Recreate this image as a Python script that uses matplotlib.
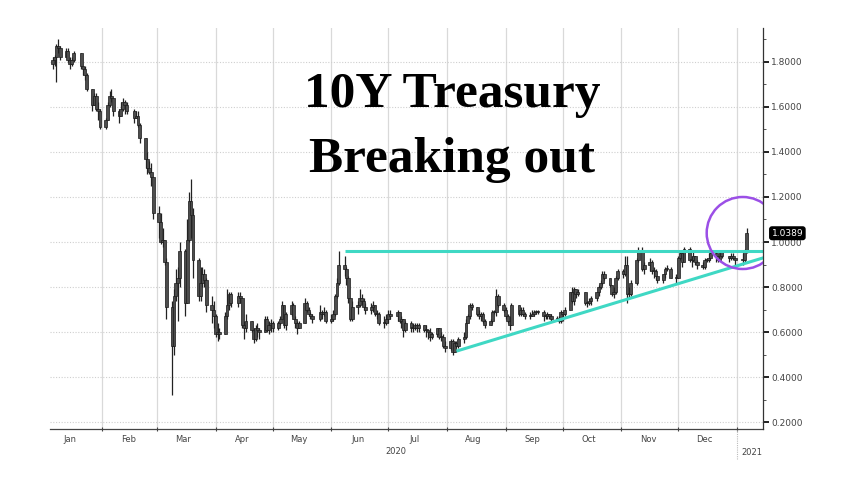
import numpy as np
import pandas as pd
import matplotlib
matplotlib.use("Agg")
import matplotlib.pyplot as plt
import matplotlib.dates as mdates
from matplotlib.patches import Ellipse, Rectangle
from pandas.tseries.holiday import USFederalHolidayCalendar

# ---------------- data (US 10Y yield, daily, Jan 2020 - Jan 6 2021) ----------------
first_open = 1.91
close = [
    1.88, 1.79, 1.81, 1.82, 1.87, 1.86, 1.82, 1.85, 1.81, 1.79, 1.81, 1.84, 1.78, 1.77, 1.74, 1.68, 1.61, 1.65, 1.59, 1.58, 1.51,
    1.54, 1.61, 1.65, 1.64, 1.58, 1.56, 1.59, 1.62, 1.61, 1.58, 1.55, 1.56, 1.52, 1.46, 1.37, 1.33, 1.31, 1.29, 1.13,
    1.09, 1.00, 1.01, 0.91, 0.71, 0.54, 0.76, 0.82, 0.84, 0.96, 0.73, 1.01, 1.18, 1.12, 0.92, 0.76, 0.82, 0.86, 0.83, 0.72, 0.70, 0.67,
    0.59, 0.60, 0.59, 0.67, 0.72, 0.77, 0.73, 0.76, 0.75, 0.63, 0.62, 0.65, 0.61, 0.57, 0.62, 0.61, 0.60, 0.66, 0.61, 0.63, 0.64,
    0.62, 0.64, 0.66, 0.72, 0.63, 0.68, 0.72, 0.66, 0.64, 0.62, 0.64, 0.73, 0.70, 0.68, 0.67, 0.66, 0.69, 0.68, 0.69, 0.65,
    0.66, 0.68, 0.76, 0.82, 0.90, 0.88, 0.84, 0.75, 0.66, 0.71, 0.72, 0.75, 0.74, 0.71, 0.70, 0.71, 0.72, 0.68, 0.68, 0.64, 0.64, 0.66,
    0.68, 0.67, 0.69, 0.65, 0.66, 0.61, 0.64, 0.62, 0.62, 0.63, 0.62, 0.63, 0.61, 0.61, 0.60, 0.58, 0.59, 0.62, 0.58, 0.58, 0.54, 0.53,
    0.56, 0.51, 0.55, 0.54, 0.57, 0.58, 0.64, 0.67, 0.72, 0.71, 0.68, 0.67, 0.68, 0.65, 0.63, 0.65, 0.69, 0.69, 0.76, 0.72, 0.70,
    0.67, 0.65, 0.63, 0.72, 0.68, 0.70, 0.68, 0.67, 0.67, 0.68, 0.69, 0.69, 0.69, 0.67, 0.67, 0.68, 0.67, 0.66, 0.66, 0.65, 0.69,
    0.68, 0.70, 0.78, 0.74, 0.79, 0.77, 0.78, 0.73, 0.73, 0.74, 0.75, 0.78, 0.80, 0.82, 0.86, 0.84, 0.81, 0.77, 0.78, 0.84, 0.87,
    0.86, 0.90, 0.77, 0.77, 0.82, 0.92, 0.96, 0.88, 0.90, 0.91, 0.87, 0.87, 0.85, 0.83, 0.86, 0.88, 0.88, 0.84, 0.84,
    0.93, 0.95, 0.91, 0.97, 0.92, 0.92, 0.94, 0.91, 0.90, 0.89, 0.92, 0.92, 0.93, 0.95, 0.94, 0.92, 0.96, 0.94, 0.93, 0.94, 0.93, 0.92,
    0.92, 0.96, 1.0389,
]
high = [
    1.92, 1.88, 1.82, 1.83, 1.88, 1.90, 1.87, 1.86, 1.86, 1.82, 1.82, 1.85, 1.84, 1.78, 1.78, 1.75, 1.66, 1.66, 1.66, 1.62, 1.59,
    1.55, 1.62, 1.67, 1.68, 1.64, 1.59, 1.62, 1.64, 1.63, 1.62, 1.59, 1.58, 1.58, 1.53, 1.43, 1.40, 1.36, 1.35, 1.26,
    1.16, 1.13, 1.06, 1.01, 0.93, 0.74, 0.79, 0.88, 0.89, 1.00, 0.97, 1.10, 1.22, 1.28, 1.15, 0.93, 0.89, 0.89, 0.88, 0.84, 0.76, 0.74,
    0.68, 0.64, 0.62, 0.69, 0.79, 0.78, 0.78, 0.78, 0.78, 0.74, 0.65, 0.68, 0.65, 0.62, 0.63, 0.64, 0.62, 0.67, 0.67, 0.65, 0.66,
    0.65, 0.65, 0.67, 0.74, 0.72, 0.69, 0.74, 0.73, 0.67, 0.65, 0.65, 0.75, 0.74, 0.71, 0.69, 0.68, 0.72, 0.70, 0.71, 0.70,
    0.68, 0.70, 0.77, 0.84, 0.96, 0.94, 0.89, 0.85, 0.74, 0.74, 0.74, 0.79, 0.77, 0.75, 0.73, 0.73, 0.74, 0.72, 0.70, 0.69, 0.67, 0.68,
    0.70, 0.70, 0.70, 0.69, 0.67, 0.66, 0.65, 0.65, 0.64, 0.64, 0.64, 0.64, 0.63, 0.63, 0.61, 0.62, 0.60, 0.62, 0.62, 0.60, 0.59, 0.56,
    0.57, 0.57, 0.56, 0.56, 0.58, 0.60, 0.66, 0.68, 0.73, 0.73, 0.71, 0.70, 0.69, 0.69, 0.66, 0.66, 0.70, 0.70, 0.79, 0.77, 0.73,
    0.71, 0.68, 0.67, 0.73, 0.72, 0.71, 0.71, 0.69, 0.69, 0.70, 0.70, 0.70, 0.70, 0.70, 0.68, 0.69, 0.68, 0.68, 0.67, 0.67, 0.70,
    0.69, 0.71, 0.78, 0.80, 0.80, 0.79, 0.79, 0.77, 0.74, 0.75, 0.76, 0.78, 0.81, 0.83, 0.87, 0.87, 0.84, 0.81, 0.80, 0.85, 0.88,
    0.88, 0.94, 0.94, 0.80, 0.83, 0.93, 0.98, 0.98, 0.91, 0.93, 0.92, 0.89, 0.88, 0.85, 0.86, 0.89, 0.90, 0.89, 0.86,
    0.94, 0.96, 0.95, 0.98, 0.98, 0.94, 0.96, 0.94, 0.92, 0.91, 0.93, 0.93, 0.95, 0.96, 0.96, 0.94, 0.96, 0.96, 0.94, 0.95, 0.95, 0.93,
    0.95, 0.97, 1.06,
]
low = [
    1.87, 1.78, 1.77, 1.78, 1.71, 1.84, 1.81, 1.82, 1.80, 1.77, 1.78, 1.80, 1.77, 1.74, 1.72, 1.67, 1.58, 1.61, 1.58, 1.54, 1.50,
    1.50, 1.54, 1.60, 1.62, 1.56, 1.53, 1.56, 1.58, 1.57, 1.57, 1.53, 1.55, 1.51, 1.44, 1.33, 1.30, 1.30, 1.25, 1.10,
    1.02, 0.99, 0.98, 0.90, 0.66, 0.32, 0.50, 0.74, 0.65, 0.80, 0.67, 0.80, 1.00, 1.02, 0.84, 0.74, 0.74, 0.80, 0.80, 0.69, 0.64, 0.62,
    0.58, 0.56, 0.57, 0.60, 0.66, 0.70, 0.71, 0.71, 0.73, 0.62, 0.57, 0.60, 0.60, 0.55, 0.56, 0.58, 0.57, 0.60, 0.60, 0.59, 0.60,
    0.60, 0.61, 0.63, 0.66, 0.62, 0.61, 0.67, 0.66, 0.62, 0.59, 0.62, 0.64, 0.69, 0.67, 0.66, 0.64, 0.65, 0.66, 0.67, 0.64,
    0.64, 0.65, 0.67, 0.75, 0.81, 0.85, 0.81, 0.73, 0.65, 0.65, 0.68, 0.71, 0.72, 0.70, 0.68, 0.68, 0.69, 0.67, 0.66, 0.63, 0.62, 0.63,
    0.64, 0.66, 0.65, 0.64, 0.62, 0.58, 0.60, 0.60, 0.60, 0.61, 0.60, 0.60, 0.60, 0.58, 0.57, 0.56, 0.57, 0.58, 0.57, 0.56, 0.53, 0.51,
    0.52, 0.50, 0.51, 0.53, 0.53, 0.55, 0.57, 0.64, 0.66, 0.70, 0.67, 0.66, 0.65, 0.64, 0.62, 0.63, 0.64, 0.68, 0.67, 0.71, 0.69,
    0.66, 0.64, 0.61, 0.63, 0.67, 0.67, 0.67, 0.66, 0.66, 0.67, 0.67, 0.68, 0.68, 0.65, 0.66, 0.66, 0.66, 0.65, 0.65, 0.64, 0.64,
    0.65, 0.67, 0.70, 0.73, 0.72, 0.75, 0.76, 0.72, 0.71, 0.72, 0.72, 0.74, 0.76, 0.79, 0.81, 0.83, 0.80, 0.76, 0.75, 0.77, 0.83,
    0.84, 0.85, 0.73, 0.75, 0.76, 0.81, 0.91, 0.87, 0.86, 0.87, 0.86, 0.84, 0.83, 0.82, 0.82, 0.84, 0.87, 0.84, 0.82,
    0.84, 0.92, 0.89, 0.91, 0.91, 0.89, 0.91, 0.90, 0.88, 0.88, 0.88, 0.91, 0.91, 0.92, 0.91, 0.91, 0.92, 0.93, 0.91, 0.92, 0.92, 0.90,
    0.90, 0.91, 0.95,
]
month_labels = ["Jan", "Feb", "Mar", "Apr", "May", "Jun", "Jul", "Aug", "Sep", "Oct", "Nov", "Dec"]
y_ticks = [0.2, 0.4, 0.6, 0.8, 1.0, 1.2, 1.4, 1.6, 1.8]
last_value_label = "1.0389"
title_lines = ["10Y Treasury", "Breaking out"]
resistance_level = 0.96
resistance_start = "2020-06-08"
trend_start = ("2020-08-06", 0.515)
trend_end = ("2021-01-15", 0.93)
circle_center = ("2021-01-04", 1.04)

# ---------------- dates ----------------
hol = list(USFederalHolidayCalendar().holidays("2020-01-01", "2021-01-10")) + [pd.Timestamp("2020-04-10")]
dates = pd.bdate_range("2020-01-02", "2021-01-06", freq="C", holidays=hol)
n = min(len(dates), len(close), len(high), len(low))
dates = dates[:n]
c = np.array(close[:n])
h = np.array(high[:n])
l = np.array(low[:n])
o = np.concatenate([[first_open], c[:-1]])
h = np.maximum(h, np.maximum(o, c))
l = np.minimum(l, np.minimum(o, c))
x = mdates.date2num(dates.to_pydatetime())

# ---------------- figure ----------------
W, H = 848, 478
fig = plt.figure(figsize=(W / 100, H / 100), dpi=100)
ax = fig.add_axes([50 / W, 1 - 429 / H, (763 - 50) / W, (429 - 28) / H])

feb1 = mdates.date2num(pd.Timestamp("2020-02-01"))
jan21 = mdates.date2num(pd.Timestamp("2021-01-01"))
xmax = jan21 + 13.7
ax.set_xlim(feb1 - 27.4, xmax)
ax.set_ylim(0.169, 1.951)

# grid
month_starts = pd.date_range("2020-02-01", "2021-01-01", freq="MS")
for d in month_starts:
    ax.axvline(mdates.date2num(d), color="#d9d9d9", lw=0.9, zorder=0)
for v in y_ticks:
    ax.axhline(v, color="#cfcfcf", lw=0.8, ls=(0, (1, 1.5)), zorder=0)

# candles
body_bottom = np.minimum(o, c)
body_h = np.abs(c - o)
body_h = np.where(body_h < 0.004, 0.004, body_h)
ax.vlines(x, l, h, color="#222222", lw=0.9, zorder=2)
ax.bar(x, body_h, bottom=body_bottom, width=1.5, color="#4d4d4d",
       edgecolor="#1a1a1a", linewidth=0.5, zorder=3)

# trend lines
cyan = "#3fd8c4"
ax.plot([mdates.date2num(pd.Timestamp(resistance_start)), xmax],
        [resistance_level, resistance_level], color=cyan, lw=2.2, zorder=4, solid_capstyle="butt")
ax.plot([mdates.date2num(pd.Timestamp(trend_start[0])), mdates.date2num(pd.Timestamp(trend_end[0]))],
        [trend_start[1], trend_end[1]], color=cyan, lw=2.2, zorder=4, solid_capstyle="butt")

# purple circle, clipped at the right axis edge
ell = Ellipse((mdates.date2num(pd.Timestamp(circle_center[0])), circle_center[1]),
              width=38, height=0.32, fill=False, edgecolor="#9b4fe6", lw=1.8, zorder=5)
ax.add_artist(ell)
clip_rect = Rectangle((0, 0), 1, 1, transform=ax.transAxes, visible=False)
ax.add_artist(clip_rect)
ell.set_clip_path(clip_rect)

# spines
for s in ["left", "top"]:
    ax.spines[s].set_visible(False)
ax.spines["right"].set_color("#333333")
ax.spines["bottom"].set_color("#444444")
ax.spines["right"].set_linewidth(0.9)
ax.spines["bottom"].set_linewidth(0.9)
ax.spines["right"].set_zorder(6)

# y axis on right
ax.yaxis.tick_right()
ax.set_yticks(y_ticks)
ax.set_yticklabels([f"{v:.4f}" for v in y_ticks])
ax.set_yticks(np.arange(0.3, 1.95, 0.2), minor=True)
ax.tick_params(axis="y", which="major", length=4, width=1.4, color="#222222",
               labelsize=6.5, labelcolor="#444444", pad=2)
ax.tick_params(axis="y", which="minor", length=2.5, width=0.7, color="#555555")

# x axis: ticks at month boundaries, labels at mid-month
ax.set_xticks(mdates.date2num(month_starts.to_pydatetime()))
ax.set_xticklabels([])
ax.tick_params(axis="x", which="major", length=3, width=0.8, color="#444444", direction="inout")
mids = [mdates.date2num(pd.Timestamp(2020, m, 15)) for m in range(1, 13)]
ax.set_xticks(mids, minor=True)
ax.set_xticklabels(month_labels, minor=True)
ax.tick_params(axis="x", which="minor", length=0, labelsize=6, labelcolor="#444444", pad=4)

# year labels
ax.text(mdates.date2num(pd.Timestamp("2020-07-05")), -0.055, "2020", transform=ax.get_xaxis_transform(),
        ha="center", va="center", fontsize=6, color="#444444")
ax.plot([jan21, jan21], [0, -0.075], transform=ax.get_xaxis_transform(), clip_on=False,
        color="#bbbbbb", lw=0.8, ls=(0, (1, 1)))
ax.text(jan21 + 2.5, -0.058, "2021", transform=ax.get_xaxis_transform(),
        ha="left", va="center", fontsize=6, color="#444444")

# last value badge
ax.text(1.012, c[-1], last_value_label, transform=ax.get_yaxis_transform(),
        ha="left", va="center", fontsize=6.5, color="white", zorder=10,
        bbox=dict(boxstyle="round,pad=0.2,rounding_size=0.25", fc="black", ec="black"))

# title text
fig.text(452 / W, 1 - 107 / H, title_lines[0], ha="center", va="baseline",
         fontsize=37, fontweight="bold", family="Liberation Serif", color="black")
fig.text(452 / W, 1 - 172 / H, title_lines[1], ha="center", va="baseline",
         fontsize=37, fontweight="bold", family="Liberation Serif", color="black")

fig.savefig("out.png", dpi=100)
